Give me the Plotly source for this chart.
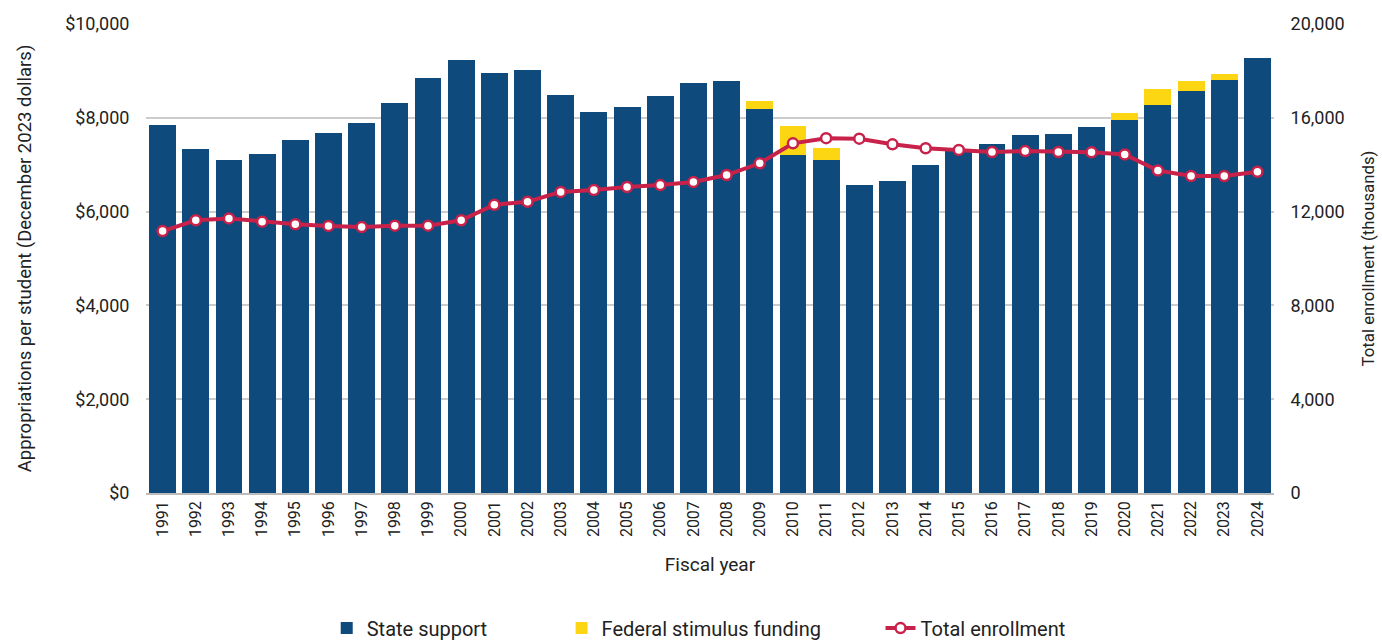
import plotly.graph_objects as go

years = [str(y) for y in range(1991, 2025)]
state_support = [7850, 7330, 7100, 7230, 7530, 7680, 7890, 8320, 8850, 9230,
                 8960, 9020, 8490, 8120, 8230, 8460, 8740, 8780, 8190, 7210,
                 7100, 6570, 6650, 6990, 7310, 7440, 7630, 7650, 7800, 7950,
                 8270, 8570, 8810, 9270]
federal_stimulus = [0, 0, 0, 0, 0, 0, 0, 0, 0, 0,
                    0, 0, 0, 0, 0, 0, 0, 0, 170, 620,
                    260, 0, 0, 0, 0, 0, 0, 0, 0, 150,
                    340, 210, 120, 0]
enrollment = [11170, 11630, 11710, 11570, 11460, 11390, 11340, 11400, 11400, 11630,
              12290, 12420, 12840, 12920, 13050, 13130, 13260, 13560, 14060, 14910,
              15130, 15110, 14870, 14700, 14630, 14540, 14580, 14540, 14530, 14440,
              13750, 13520, 13520, 13700]

FONT = "Roboto, sans-serif"
NAVY = "#0E4A7B"
YELLOW = "#FCD612"
RED = "#C8214A"
NB = "\u00a0"

fig = go.Figure()
fig.add_trace(go.Bar(x=years, y=state_support, name="State support" + NB * 14,
                     marker=dict(color=NAVY, line=dict(width=0))))
fig.add_trace(go.Bar(x=years, y=federal_stimulus, name="Federal stimulus funding" + NB * 11,
                     marker=dict(color=YELLOW, line=dict(width=0))))
fig.add_trace(go.Scatter(x=years, y=enrollment, name="Total enrollment", yaxis="y2",
                         mode="lines+markers",
                         line=dict(color=RED, width=4),
                         marker=dict(color="white", size=10, line=dict(color=RED, width=2.5))))

fig.update_layout(
    width=1382, height=640,
    barmode="stack", bargap=0.19,
    plot_bgcolor="white", paper_bgcolor="white",
    font=dict(family=FONT, size=18, color="#222"),
    margin=dict(l=146, r=108, t=24, b=147, autoexpand=False),
    xaxis=dict(tickangle=-90, showgrid=False, showline=True, linecolor="#bbb",
               linewidth=1.5, ticks="", automargin=False,
               range=[-0.5, len(years) - 0.5],
               title=dict(text="Fiscal year", standoff=22, font=dict(size=19)),
               tickfont=dict(size=16)),
    yaxis=dict(range=[0, 10000], dtick=2000, tickprefix="$", tickformat=",",
               showgrid=True, gridcolor="#cccccc", gridwidth=1.5, zeroline=False,
               ticks="outside", ticklen=12, tickcolor="white", automargin=False,
               title=dict(text="Appropriations per student (December 2023 dollars)",
                          standoff=28, font=dict(size=18.5))),
    yaxis2=dict(range=[0, 20000], dtick=4000, tickformat=",", overlaying="y", side="right",
                showgrid=False, zeroline=False, ticks="outside", ticklen=12, tickcolor="white",
                automargin=False,
                title=dict(text="Total enrollment (thousands)", standoff=18,
                           font=dict(size=16.8))),
    legend=dict(orientation="h", x=0.49, xanchor="center", y=-0.288, yanchor="middle",
                traceorder="normal", font=dict(size=20)),
)

fig.write_html("out.html", config={"displayModeBar": False},
               post_script="document.body.style.margin='0';")
